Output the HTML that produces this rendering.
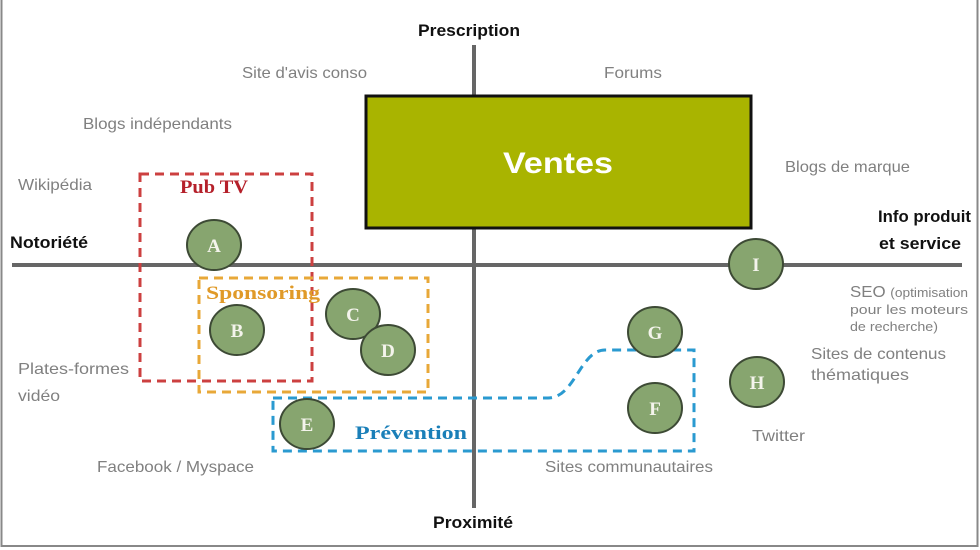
<!DOCTYPE html>
<html><head><meta charset="utf-8"><style>
html,body{margin:0;padding:0;background:#fff}
svg{display:block}
.g{font-family:"Liberation Sans",sans-serif;fill:#808080;font-size:16px}
.b{font-family:"Liberation Sans",sans-serif;fill:#111;font-size:17px;font-weight:bold}
.l{font-family:"Liberation Serif",serif;font-weight:bold;fill:#f4f4ec;font-size:19px}
.s{font-family:"Liberation Serif",serif;font-weight:bold;font-size:19px}
</style></head><body>
<svg width="980" height="550" viewBox="0 0 980 550" xmlns="http://www.w3.org/2000/svg">
<rect x="1.5" y="-2" width="976" height="548" fill="#fff" stroke="#888" stroke-width="2"/>
<line x1="12" y1="265" x2="962" y2="265" stroke="#666" stroke-width="4"/>
<line x1="474" y1="45" x2="474" y2="508" stroke="#666" stroke-width="4"/>
<rect x="366" y="96" width="385" height="132" fill="#a9b400" stroke="#111" stroke-width="3"/>
<text x="558" y="173" text-anchor="middle" font-family="Liberation Sans,sans-serif" font-weight="bold" font-size="30" fill="#fff" textLength="110" lengthAdjust="spacingAndGlyphs">Ventes</text>
<rect x="140" y="174" width="172" height="207" fill="none" stroke="#cc4040" stroke-width="3" stroke-dasharray="9,6"/>
<rect x="199" y="278" width="229" height="114" fill="none" stroke="#e8a838" stroke-width="3" stroke-dasharray="9,6"/>
<path d="M273 398 H548 C575 398 580 350 605 350 H694 V451 H273 Z" fill="none" stroke="#2a9ad0" stroke-width="3" stroke-dasharray="9,6"/>
<g fill="#87a56f" stroke="#3d4a35" stroke-width="2">
<ellipse cx="214" cy="245" rx="27" ry="25"/>
<ellipse cx="237" cy="330" rx="27" ry="25"/>
<ellipse cx="353" cy="314" rx="27" ry="25"/>
<ellipse cx="388" cy="350" rx="27" ry="25"/>
<ellipse cx="307" cy="424" rx="27" ry="25"/>
<ellipse cx="655" cy="332" rx="27" ry="25"/>
<ellipse cx="655" cy="408" rx="27" ry="25"/>
<ellipse cx="757" cy="382" rx="27" ry="25"/>
<ellipse cx="756" cy="264" rx="27" ry="25"/>
</g>
<g class="l" text-anchor="middle">
<text x="214" y="252">A</text><text x="237" y="337">B</text><text x="353" y="321">C</text>
<text x="388" y="357">D</text><text x="307" y="431">E</text><text x="655" y="339">G</text>
<text x="655" y="415">F</text><text x="757" y="389">H</text><text x="756" y="271">I</text>
</g>
<text x="180" y="193" class="s" fill="#b5202a" textLength="68" lengthAdjust="spacingAndGlyphs">Pub TV</text>
<text x="206" y="299" class="s" fill="#e09a28" textLength="114" lengthAdjust="spacingAndGlyphs">Sponsoring</text>
<text x="355" y="439" class="s" fill="#1a7fb8" textLength="112" lengthAdjust="spacingAndGlyphs">Prévention</text>
<text x="418" y="36" class="b" textLength="102" lengthAdjust="spacingAndGlyphs">Prescription</text>
<text x="433" y="528" class="b" textLength="80" lengthAdjust="spacingAndGlyphs">Proximité</text>
<text x="10" y="248" class="b" textLength="78" lengthAdjust="spacingAndGlyphs">Notoriété</text>
<text x="878" y="222" class="b" textLength="93" lengthAdjust="spacingAndGlyphs">Info produit</text>
<text x="879" y="249" class="b" textLength="82" lengthAdjust="spacingAndGlyphs">et service</text>
<g class="g">
<text x="242" y="78" textLength="125" lengthAdjust="spacingAndGlyphs">Site d'avis conso</text>
<text x="604" y="78" textLength="58" lengthAdjust="spacingAndGlyphs">Forums</text>
<text x="83" y="129" textLength="149" lengthAdjust="spacingAndGlyphs">Blogs indépendants</text>
<text x="18" y="190" textLength="74" lengthAdjust="spacingAndGlyphs">Wikipédia</text>
<text x="785" y="172" textLength="125" lengthAdjust="spacingAndGlyphs">Blogs de marque</text>
<text x="18" y="374" textLength="111" lengthAdjust="spacingAndGlyphs">Plates-formes</text>
<text x="18" y="401" textLength="42" lengthAdjust="spacingAndGlyphs">vidéo</text>
<text x="97" y="472" textLength="157" lengthAdjust="spacingAndGlyphs">Facebook / Myspace</text>
<text x="545" y="472" textLength="168" lengthAdjust="spacingAndGlyphs">Sites communautaires</text>
<text x="752" y="441" textLength="53" lengthAdjust="spacingAndGlyphs">Twitter</text>
<text x="811" y="359" textLength="135" lengthAdjust="spacingAndGlyphs">Sites de contenus</text>
<text x="811" y="380" textLength="98" lengthAdjust="spacingAndGlyphs">thématiques</text>
<text x="850" y="297" textLength="118" lengthAdjust="spacingAndGlyphs"><tspan font-size="16">SEO </tspan><tspan font-size="13">(optimisation</tspan></text>
<text x="850" y="314" font-size="13" textLength="118" lengthAdjust="spacingAndGlyphs">pour les moteurs</text>
<text x="850" y="331" font-size="13" textLength="88" lengthAdjust="spacingAndGlyphs">de recherche)</text>
</g>
</svg>
</body></html>
